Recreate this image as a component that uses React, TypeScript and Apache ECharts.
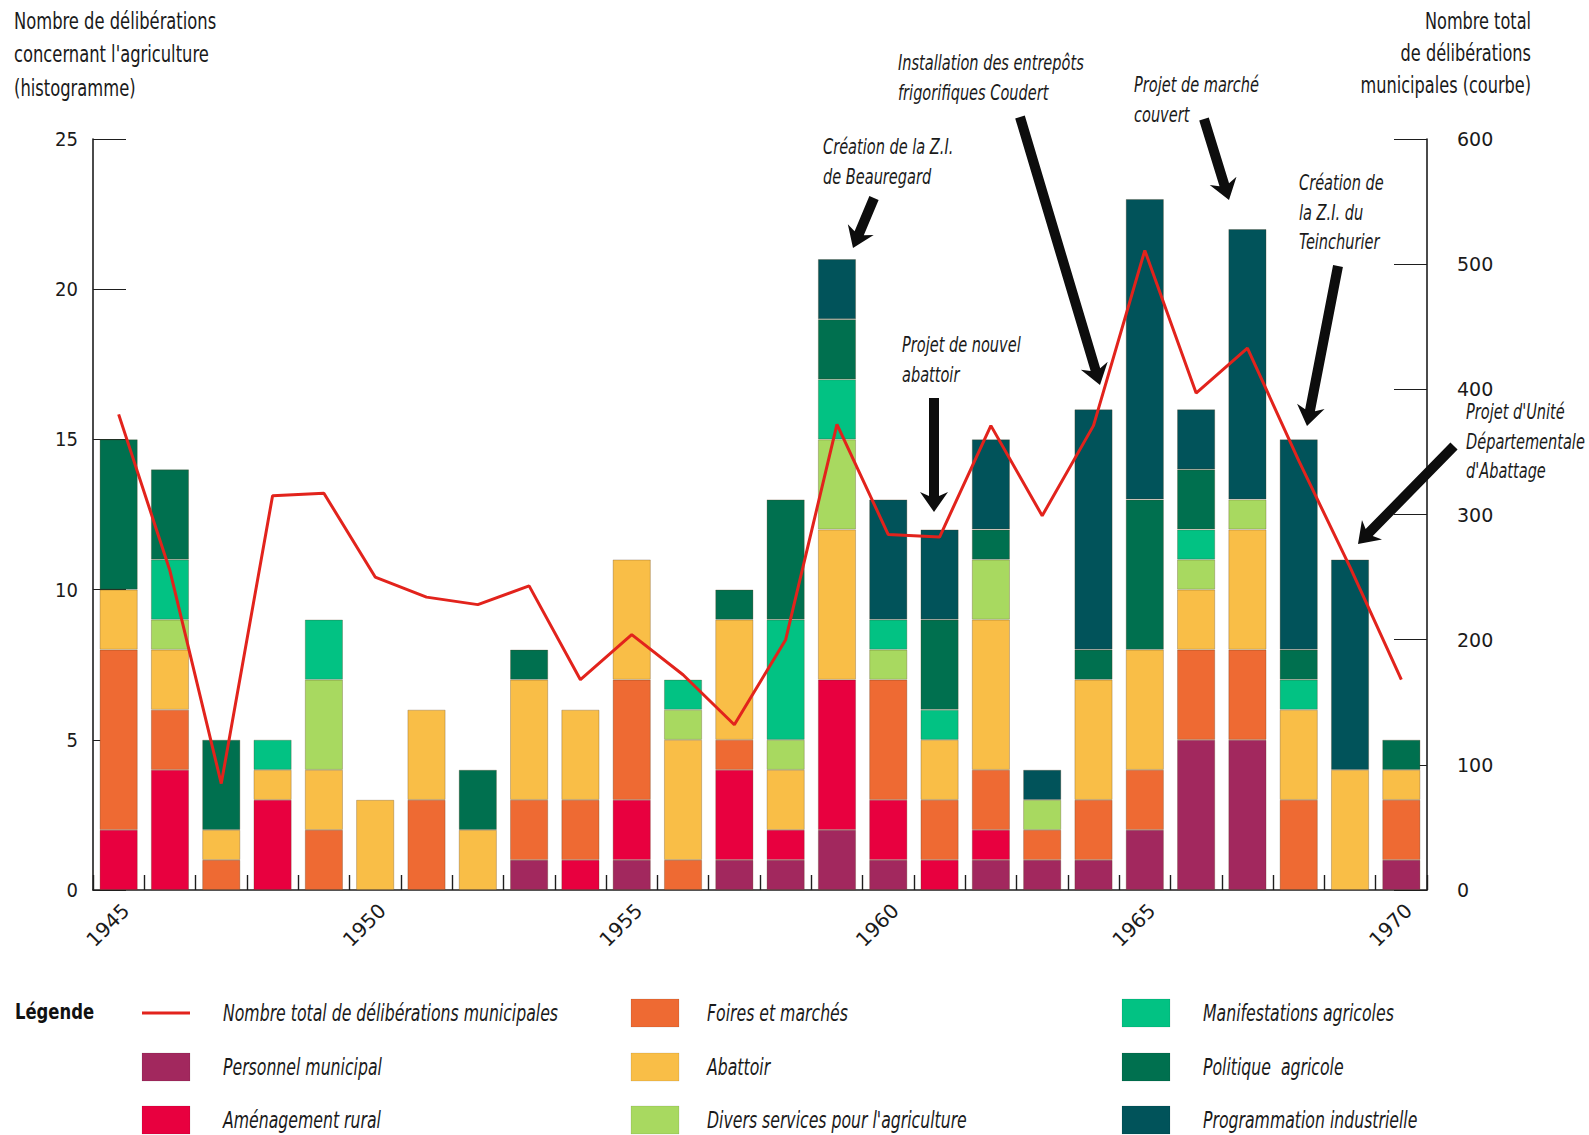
import React, { useEffect, useRef } from "react";
import * as echarts from "echarts";

// ---------- DATA ----------
const years = [
  "1945", "1946", "1947", "1948", "1949", "1950", "1951", "1952", "1953",
  "1954", "1955", "1956", "1957", "1958", "1959", "1960", "1961", "1962",
  "1963", "1964", "1965", "1966", "1967", "1968", "1969", "1970",
];

const personnelMunicipal = [0, 0, 0, 0, 0, 0, 0, 0, 1, 0, 1, 0, 1, 1, 2, 1, 0, 1, 1, 1, 2, 5, 5, 0, 0, 1];
const amenagementRural = [2, 4, 0, 3, 0, 0, 0, 0, 0, 1, 2, 0, 3, 1, 5, 2, 1, 1, 0, 0, 0, 0, 0, 0, 0, 0];
const foiresMarches = [6, 2, 1, 0, 2, 0, 3, 0, 2, 2, 4, 1, 1, 0, 0, 4, 2, 2, 1, 2, 2, 3, 3, 3, 0, 2];
const abattoir = [2, 2, 1, 1, 2, 3, 3, 2, 4, 3, 4, 4, 4, 2, 5, 0, 2, 5, 0, 4, 4, 2, 4, 3, 4, 1];
const diversServices = [0, 1, 0, 0, 3, 0, 0, 0, 0, 0, 0, 1, 0, 1, 3, 1, 0, 2, 1, 0, 0, 1, 1, 0, 0, 0];
const manifestations = [0, 2, 0, 1, 2, 0, 0, 0, 0, 0, 0, 1, 0, 4, 2, 1, 1, 0, 0, 0, 0, 1, 0, 1, 0, 0];
const politiqueAgricole = [5, 3, 3, 0, 0, 0, 0, 2, 1, 0, 0, 0, 1, 4, 2, 0, 3, 1, 0, 1, 5, 2, 0, 1, 0, 1];
const programmationIndustrielle = [0, 0, 0, 0, 0, 0, 0, 0, 0, 0, 0, 0, 0, 0, 2, 4, 3, 3, 1, 8, 10, 2, 9, 7, 7, 0];

const totalDeliberations = [
  380, 255, 85, 315, 317, 250, 234, 228, 243, 168, 204, 172, 132, 200, 372,
  284, 282, 371, 299, 371, 511, 397, 433, 343, 258, 168,
];

const leftTicks = { min: 0, max: 25, interval: 5 };
const rightTicks = { min: 0, max: 600, interval: 100 };

const lineName = "Nombre total de délibérations municipales";
const barNames = [
  "Personnel municipal",
  "Aménagement rural",
  "Foires et marchés",
  "Abattoir",
  "Divers services pour l'agriculture",
  "Manifestations agricoles",
  "Politique  agricole",
  "Programmation industrielle",
];
const barValues = [
  personnelMunicipal,
  amenagementRural,
  foiresMarches,
  abattoir,
  diversServices,
  manifestations,
  politiqueAgricole,
  programmationIndustrielle,
];

const annotations = [
  { lines: ["Création de la Z.I.", "de Beauregard"] },
  { lines: ["Projet de nouvel", "abattoir"] },
  { lines: ["Installation des entrepôts", "frigorifiques Coudert"] },
  { lines: ["Projet de marché", "couvert"] },
  { lines: ["Création de", "la Z.I. du", "Teinchurier"] },
  { lines: ["Projet d'Unité", "Départementale", "d'Abattage"] },
];

const leftTitle = ["Nombre de délibérations", "concernant l'agriculture", "(histogramme)"];
const rightTitle = ["Nombre total", "de délibérations", "municipales (courbe)"];

// ---------- STYLE / LAYOUT ----------
const barColors = ["#A2285E", "#E8003F", "#EE6A33", "#F9BE47", "#A8D960", "#02C283", "#00704F", "#01535A"];
const lineColor = "#E2231C";
const NARROW = "'DejaVu Sans Condensed', 'Liberation Sans Narrow', sans-serif";
const ROUND = "'DejaVu Sans', 'Open Sans', sans-serif";

const annotationLayout = [
  { tx: 823, ty: 147, arrow: [874, 198, 853, 248] },
  { tx: 902, ty: 345, arrow: [934, 398, 934, 512] },
  { tx: 898, ty: 63, arrow: [1020, 117, 1100, 385] },
  { tx: 1134, ty: 85, arrow: [1204, 119, 1229, 200] },
  { tx: 1299, ty: 183, arrow: [1338, 266, 1307, 426] },
  { tx: 1466, ty: 412, arrow: [1454, 446, 1358, 544] },
];

function arrowPoints(x1: number, y1: number, x2: number, y2: number) {
  const w = 10, hw = 28, hl = 20;
  const dx = x2 - x1, dy = y2 - y1;
  const L = Math.sqrt(dx * dx + dy * dy);
  const ux = dx / L, uy = dy / L;
  const nx = -uy, ny = ux;
  const bx = x2 - ux * hl, by = y2 - uy * hl;
  const nb = 4;
  const cx = bx + ux * nb, cy = by + uy * nb;
  return [
    [x1 + nx * w / 2, y1 + ny * w / 2],
    [cx + nx * w / 2, cy + ny * w / 2],
    [bx + nx * hw / 2, by + ny * hw / 2],
    [x2, y2],
    [bx - nx * hw / 2, by - ny * hw / 2],
    [cx - nx * w / 2, cy - ny * w / 2],
    [x1 - nx * w / 2, y1 - ny * w / 2],
  ];
}

function txt(text: string, x: number, y: number, opts: any) {
  const { scaleX = 1, align = "left", ...style } = opts;
  return {
    type: "text", x, y, z: 100, scaleX,
    style: { text, fill: "#1a1a1a", fontFamily: NARROW, align, verticalAlign: "middle", ...style },
  };
}

function buildGraphics() {
  const g: any[] = [];
  leftTitle.forEach((t, i) => {
    g.push(txt(t, 14, 21 + i * 33.5, { fontSize: 23, scaleX: 0.79 }));
  });
  rightTitle.forEach((t, i) => {
    g.push(txt(t, 1531, 21 + i * 32, { fontSize: 23, scaleX: 0.78, align: "right" }));
  });
  annotations.forEach((a, i) => {
    const lay = annotationLayout[i];
    a.lines.forEach((t, j) => {
      g.push(txt(t, lay.tx, lay.ty + j * 29.5, { fontSize: 21, fontStyle: "italic", scaleX: 0.77 }));
    });
    const [x1, y1, x2, y2] = lay.arrow;
    g.push({ type: "polygon", z: 100, shape: { points: arrowPoints(x1, y1, x2, y2) }, style: { fill: "#0d0d0d" } });
  });
  g.push(txt("Légende", 15, 1011, { fontSize: 22, fontWeight: "bold", scaleX: 0.83, fill: "#111" }));
  const entries: { name: string; color: string; isLine?: boolean }[] = [
    { name: lineName, color: lineColor, isLine: true },
    ...barNames.map((n, i) => ({ name: n, color: barColors[i] })),
  ];
  const colX = [142, 631, 1122];
  const textX = [223, 707, 1203];
  const rowY = [1013, 1067, 1120];
  entries.forEach((e, k) => {
    const col = Math.floor(k / 3);
    const row = k % 3;
    const x = colX[col], y = rowY[row];
    if (e.isLine) {
      g.push({ type: "line", z: 100, shape: { x1: x, y1: y, x2: x + 48, y2: y }, style: { stroke: e.color, lineWidth: 3 } });
    } else {
      g.push({
        type: "rect", z: 100, shape: { x, y: y - 14, width: 48, height: 28 },
        style: { fill: e.color, stroke: "rgba(0,0,0,0.15)", lineWidth: 0.6 },
      });
    }
    g.push(txt(e.name, textX[col], y, { fontSize: 23, fontStyle: "italic", scaleX: 0.76 }));
  });
  return g;
}

export default function App() {
  const ref = useRef<HTMLDivElement>(null);
  useEffect(() => {
    document.body.style.margin = "0";
    if (!ref.current) return;
    const chart = echarts.init(ref.current, null, { renderer: "svg" });
    const axisColor = "#1e1e1e";
    const option: any = {
      animation: false,
      backgroundColor: "#ffffff",
      grid: { left: 93, right: 162, top: 139, bottom: 245, containLabel: false },
      xAxis: {
        type: "category",
        data: years,
        axisLine: { show: true, lineStyle: { color: axisColor, width: 1.6 } },
        axisTick: { show: true, inside: true, length: 15, interval: 0, lineStyle: { color: axisColor, width: 1.4 } },
        axisLabel: {
          interval: 4, rotate: 45, fontSize: 20, margin: 10, color: "#1a1a1a", fontFamily: ROUND,
          verticalAlign: "top",
        },
        splitLine: { show: false },
      },
      yAxis: [
        {
          type: "value",
          min: leftTicks.min, max: leftTicks.max, interval: leftTicks.interval,
          axisLine: { show: true, lineStyle: { color: axisColor, width: 1.6 } },
          axisTick: { show: true, inside: true, length: 33, lineStyle: { color: axisColor, width: 1 } },
          axisLabel: { fontSize: 20, margin: 15, color: "#1a1a1a", fontFamily: NARROW },
          splitLine: { show: false },
        },
        {
          type: "value",
          position: "right",
          min: rightTicks.min, max: rightTicks.max, interval: rightTicks.interval,
          axisLine: { show: true, lineStyle: { color: axisColor, width: 1.6 } },
          axisTick: { show: true, inside: true, length: 33, lineStyle: { color: axisColor, width: 1 } },
          axisLabel: { fontSize: 19, margin: 30, color: "#1a1a1a", fontFamily: ROUND },
          splitLine: { show: false },
        },
      ],
      series: [
        ...barNames.map((name, i) => ({
          name,
          type: "bar",
          stack: "agri",
          barWidth: 38,
          yAxisIndex: 0,
          data: barValues[i].map((v) => (v === 0 ? null : v)),
          itemStyle: { color: barColors[i], borderColor: "rgba(80,50,20,0.35)", borderWidth: 0.8 },
        })),
        {
          name: lineName,
          type: "line",
          yAxisIndex: 1,
          data: totalDeliberations,
          symbol: "none",
          lineStyle: { color: lineColor, width: 3 },
          z: 5,
        },
      ],
      graphic: buildGraphics(),
    };
    chart.setOption(option);
    return () => chart.dispose();
  }, []);
  return <div ref={ref} style={{ width: 1589, height: 1135 }} />;
}
